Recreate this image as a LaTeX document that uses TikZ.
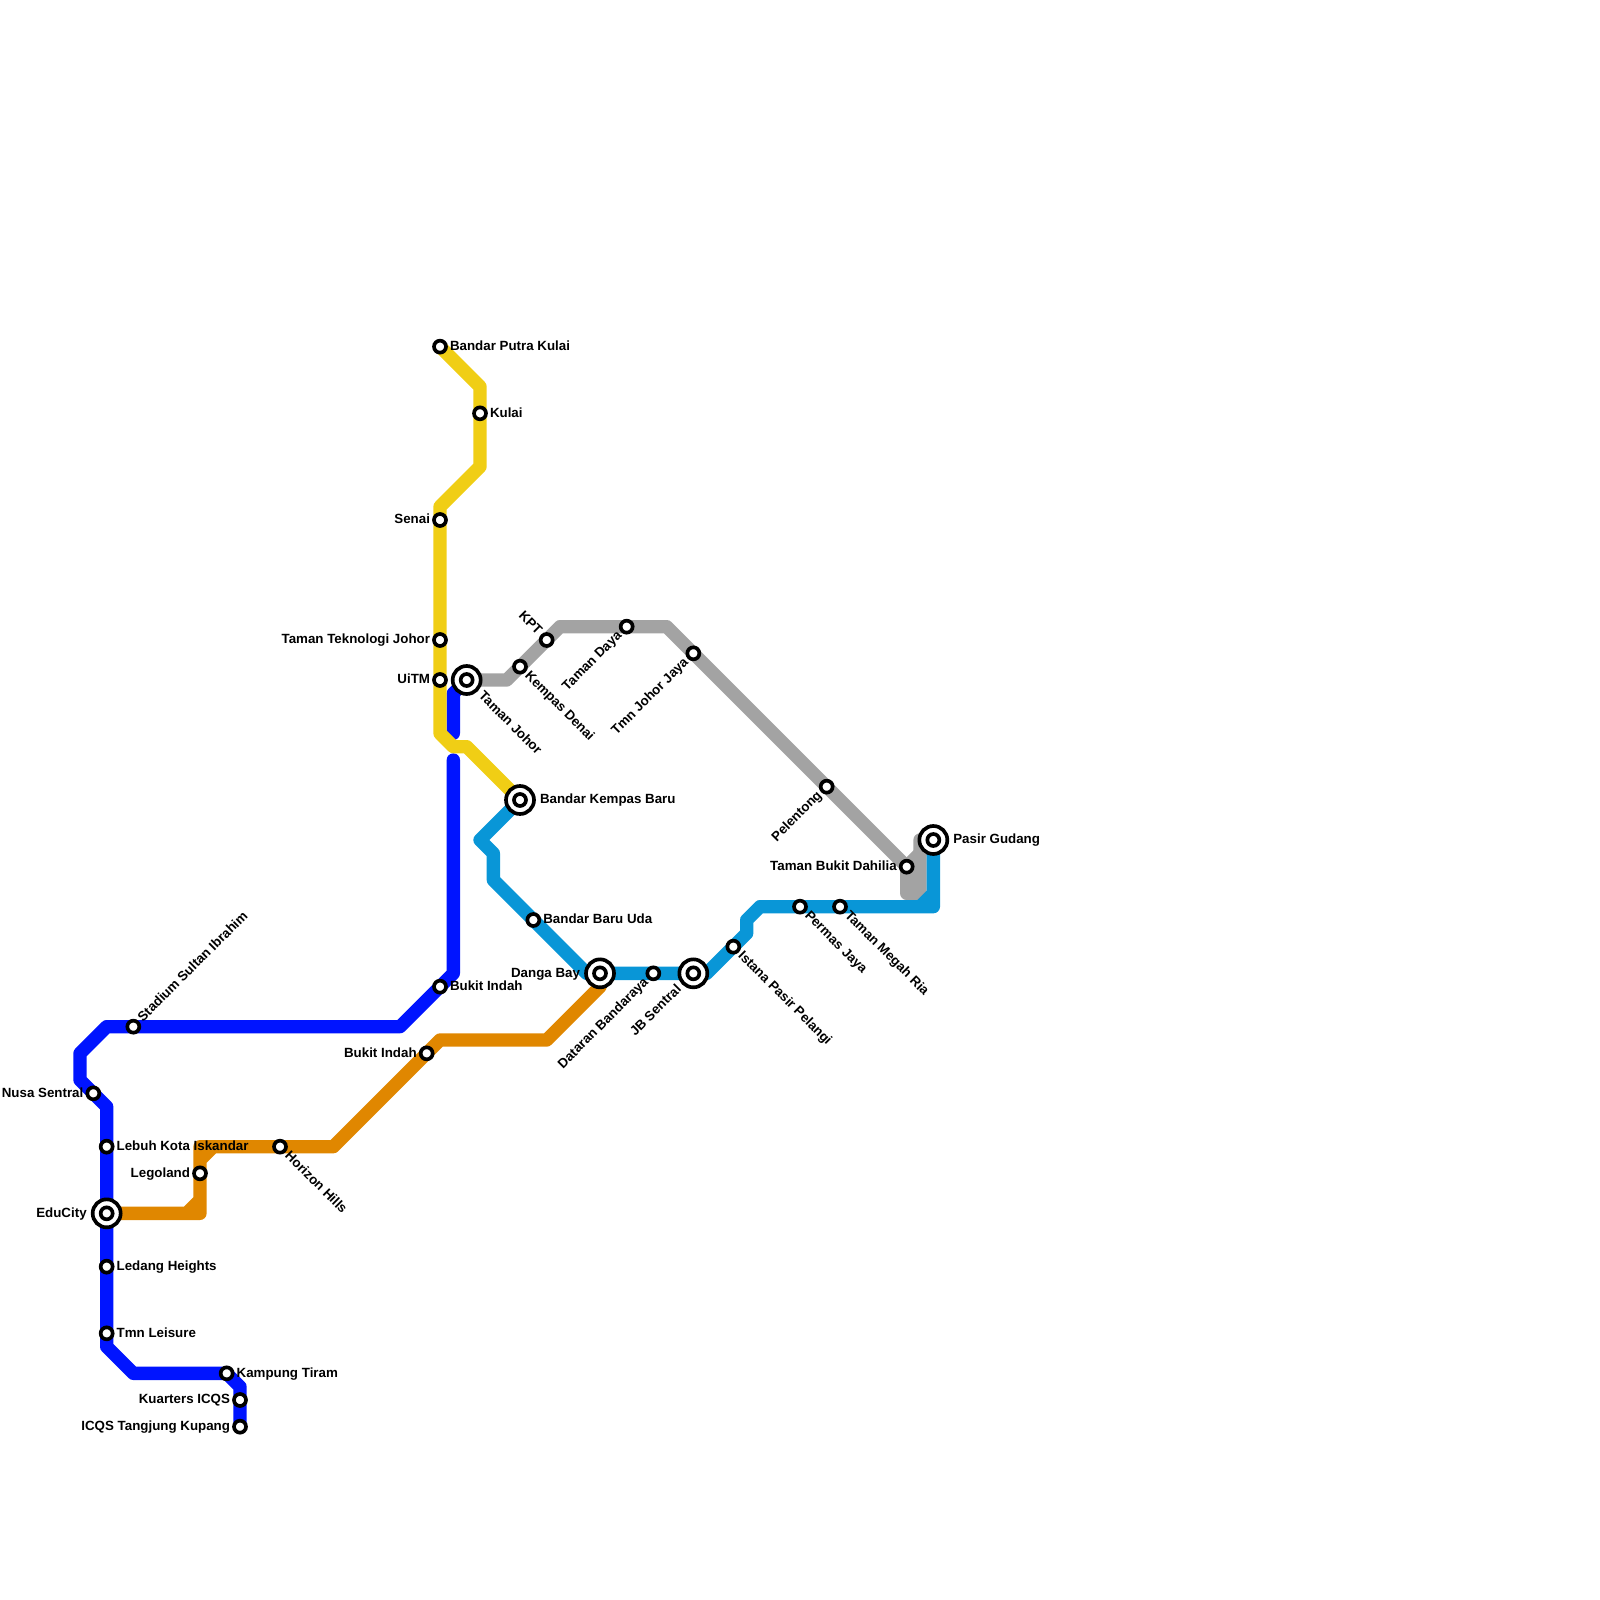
\documentclass[tikz,border=0pt]{standalone}
\usepackage{fontspec}
\setmainfont{Liberation Sans}
\usetikzlibrary{backgrounds, positioning}
\definecolor{linedarkblue}{RGB}{0,20,255}
\definecolor{lineyellow}{RGB}{240,206,21}
\definecolor{lineorange}{RGB}{224,135,0}
\definecolor{linegray}{RGB}{163,163,163}
\definecolor{linesky}{RGB}{9,150,215}

\begin{document}
\begin{tikzpicture}[
  x=0.2cm, y=-0.2cm,
  stn/.style={circle, draw=black, fill=white, line width=0.055cm, minimum size=0.18cm, inner sep=0pt, outer sep=0pt},
  hub/.style={stn, minimum size=0.42cm, path picture={\draw[line width=0.055cm] (path picture bounding box.center) circle (0.09cm);}},
  lbl/.style={inner sep=0pt, outer sep=0pt, text height=0.145cm, text depth=0.03cm, font=\fontsize{5.69pt}{6pt}\selectfont\bfseries},
  lblse/.style={lbl, rotate=-45, anchor=west, xshift=0.15cm},
  lblne/.style={lbl, rotate=45, anchor=west, xshift=0.15cm},
  lblsw/.style={lbl, rotate=45, anchor=east, xshift=-0.15cm},
  lblnw/.style={lbl, rotate=-45, anchor=east, xshift=-0.15cm},
  metro/.style={line width=0.2cm, line join=round, line cap=round}
]
\useasboundingbox (0,0) rectangle (120,120);

% yellow line
\node[stn] (putra) at (33,26) {};
\node[stn] (kulai) at (36,31) {};
\node[stn] (senai) at (33,39) {};
\node[stn] (tekno) at (33,48) {};
\node[stn] (uitm) at (33,51) {};
\node[hub] (kempasbaru) at (39,60) {};

% gray line
\node[hub] (tjohor) at (35,51) {};
\node[stn] (denai) at (39,50) {};
\node[stn] (kpt) at (41,48) {};
\node[stn] (daya) at (47,47) {};
\node[stn] (johorjaya) at (52,49) {};
\node[stn] (pelentong) at (62,59) {};
\node[stn] (dahilia) at (68,65) {};
\node[hub] (pasir) at (70,63) {};

% sky line
\node[stn] (baruuda) at (40,69) {};
\node[hub] (danga) at (45,73) {};
\node[stn] (dataran) at (49,73) {};
\node[hub] (sentral) at (52,73) {};
\node[stn] (istana) at (55,71) {};
\node[stn] (permas) at (60,68) {};
\node[stn] (megah) at (63,68) {};

% dark blue line
\node[stn] (bukitn) at (33,74) {};
\node[stn] (stadium) at (10,77) {};
\node[stn] (nusa) at (7,82) {};
\node[stn] (lebuh) at (8,86) {};
\node[hub] (educity) at (8,91) {};
\node[stn] (ledang) at (8,95) {};
\node[stn] (leisure) at (8,100) {};
\node[stn] (tiram) at (17,103) {};
\node[stn] (kuarters) at (18,105) {};
\node[stn] (tanjung) at (18,107) {};

% orange line
\node[stn] (bukits) at (32,79) {};
\node[stn] (legoland) at (15,88) {};
\node[stn] (horizon) at (21,86) {};

\coordinate (stubtop) at (34,57);
\coordinate (stubend) at (34,55);

\begin{pgfonlayer}{background}
\draw[metro, lineorange] (educity.center) -- (15,91) -- (14,91) -- (15,90) -- (15,91) -- (15,86) -- (16,86) -- (15,87) -- (16,86) -- (25,86) -- (33,78) -- (41,78) -- (45,74) -- (danga.center);
\draw[metro, linedarkblue] (tjohor.center) -- (34,52) -- (stubend);
\draw[metro, linedarkblue] (stubtop) -- (34,73) -- (30,77) -- (8,77) -- (6,79) -- (6,81) -- (8,83) -- (8,101) -- (10,103) -- (17,103) -- (18,104) -- (tanjung.center);
\draw[metro, lineyellow] (putra.center) -- (36,29) -- (36,35) -- (33,38) -- (33,55) -- (34,56) -- (35,56) -- (kempasbaru.center);
\draw[metro, linegray] (tjohor.center) -- (38,51) -- (42,47) -- (50,47) -- (dahilia.center) -- (68,67) -- (69,67) -- (69,63) -- (pasir.center);
\draw[metro, linegray] (69,64) -- (dahilia.center);
\draw[metro, linesky] (kempasbaru.center) -- (36,63) -- (37,64) -- (37,66) -- (44,73) -- (sentral.center) -- (53,73) -- (56,70) -- (56,69) -- (57,68) -- (70,68) -- (69,68) -- (70,67) -- (70,68) -- (pasir.center);
\end{pgfonlayer}

\node[lbl, right=0.06cm of putra] (putralab) {Bandar Putra Kulai};
\node[lbl, right=0.06cm of kulai] (kulailab) {Kulai};
\node[lbl, left=0.06cm of senai] (senailab) {Senai};
\node[lbl, left=0.06cm of tekno] (teknolab) {Taman Teknologi Johor};
\node[lbl, left=0.06cm of uitm] (uitmlab) {UiTM};
\node[lbl, right=0.09cm of kempasbaru] (kempasbarulab) {Bandar Kempas Baru};
\node[lblse, xshift=0.15cm] (tjohorlab) at (tjohor) {Taman Johor};
\node[lblse] (denailab) at (denai) {Kempas Denai};
\node[lblnw] (kptlab) at (kpt) {KPT};
\node[lblsw] (dayalab) at (daya) {Taman Daya};
\node[lblsw] (johorjayalab) at (johorjaya) {Tmn Johor Jaya};
\node[lblsw] (pelentonglab) at (pelentong) {Pelentong};
\node[lbl, left=0.06cm of dahilia] (dahilialab) {Taman Bukit Dahilia};
\node[lbl, right=0.09cm of pasir] (pasirlab) {Pasir Gudang};
\node[lbl, right=0.06cm of baruuda] (baruudalab) {Bandar Baru Uda};
\node[lbl, left=0.09cm of danga] (dangalab) {Danga Bay};
\node[lblsw] (dataranlab) at (dataran) {Dataran Bandaraya};
\node[lblsw, xshift=-0.15cm] (sentrallab) at (sentral) {JB Sentral};
\node[lblse] (istanalab) at (istana) {Istana Pasir Pelangi};
\node[lblse] (permaslab) at (permas) {Permas Jaya};
\node[lblse] (megahlab) at (megah) {Taman Megah Ria};
\node[lbl, right=0.06cm of bukitn] (bukitnlab) {Bukit Indah};
\node[lblne] (stadiumlab) at (stadium) {Stadium Sultan Ibrahim};
\node[lbl, left=0.06cm of nusa] (nusalab) {Nusa Sentral};
\node[lbl, right=0.06cm of lebuh] (lebuhlab) {Lebuh Kota Iskandar};
\node[lbl, left=0.09cm of educity] (educitylab) {EduCity};
\node[lbl, right=0.06cm of ledang] (ledanglab) {Ledang Heights};
\node[lbl, right=0.06cm of leisure] (leisurelab) {Tmn Leisure};
\node[lbl, right=0.06cm of tiram] (tiramlab) {Kampung Tiram};
\node[lbl, left=0.06cm of kuarters] (kuarterslab) {Kuarters ICQS};
\node[lbl, left=0.06cm of tanjung] (tanjunglab) {ICQS Tangjung Kupang};
\node[lbl, left=0.06cm of bukits] (bukitslab) {Bukit Indah};
\node[lbl, left=0.06cm of legoland] (legolandlab) {Legoland};
\node[lblse] (horizonlab) at (horizon) {Horizon Hills};

\end{tikzpicture}
\end{document}
